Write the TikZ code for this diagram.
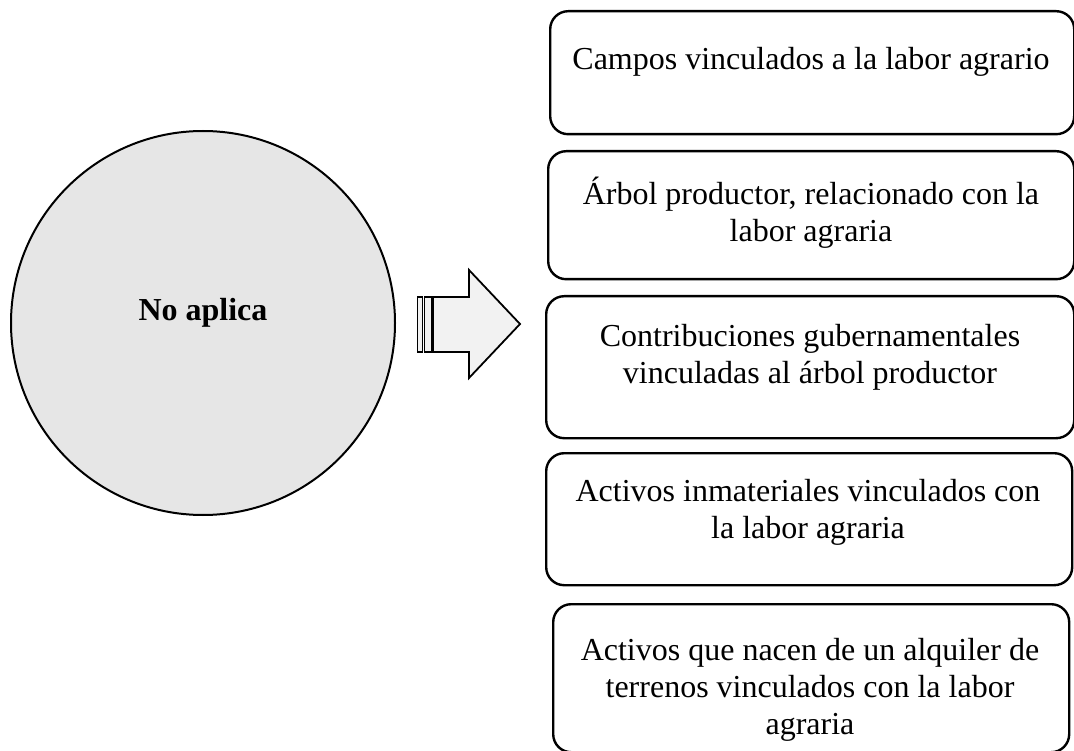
\documentclass[tikz,border=0pt]{standalone}
\usepackage{fontspec}
\setmainfont{Liberation Serif}
\definecolor{circfill}{HTML}{E6E6E6}
\definecolor{arrfill}{HTML}{F2F2F2}
\begin{document}
\begin{tikzpicture}[x=1pt,y=-1pt,
  rbox/.style={draw=black,line width=2.4pt,rounded corners=18pt,fill=white,
    rectangle,inner sep=0pt,anchor=north west},
  lbl/.style={align=center,font=\fontsize{32}{37}\selectfont,inner sep=0pt},
  arrpart/.style={draw=black,line width=1.8pt,fill=arrfill,line join=miter}]
\useasboundingbox (0,0) rectangle (1074,751);
\fill[white] (0,0) rectangle (1074,751);

% circle
\node[circle,draw=black,line width=2pt,fill=circfill,minimum size=384pt,inner sep=0pt] (circ) at (203,323) {};
\node[lbl,font=\fontsize{32}{37}\selectfont\bfseries] (circt) at (203,313) {No aplica};

% arrow
\draw[arrpart] (417.5,297) rectangle (422.5,352);
\draw[arrpart] (424.5,297) rectangle (431.5,352);
\draw[arrpart] (433,297) -- (469,297) -- (469,270) -- (520,324) -- (469,378) -- (469,352) -- (433,352) -- cycle;

% boxes
\node[rbox,minimum width=524pt,minimum height=123pt] (b1) at (549,10) {};
\node[rbox,minimum width=526pt,minimum height=128pt] (b2) at (547,150) {};
\node[rbox,minimum width=528pt,minimum height=142pt] (b3) at (545,295) {};
\node[rbox,minimum width=526pt,minimum height=132pt] (b4) at (545,452) {};
\node[rbox,minimum width=516pt,minimum height=148pt] (b5) at (552,603) {};

\node[lbl] (t1) at (811,62) {Campos vinculados a la labor agrario};
\node[lbl] (t2) at (811,213) {Árbol productor, relacionado con la\\labor agraria};
\node[lbl] (t3) at (810,357) {Contribuciones gubernamentales\\vinculadas al árbol productor};
\node[lbl] (t4) at (808,512) {Activos inmateriales vinculados con\\la labor agraria};
\node[lbl] (t5) at (810,690) {Activos que nacen de un alquiler de\\terrenos vinculados con la labor\\agraria};
\end{tikzpicture}
\end{document}
